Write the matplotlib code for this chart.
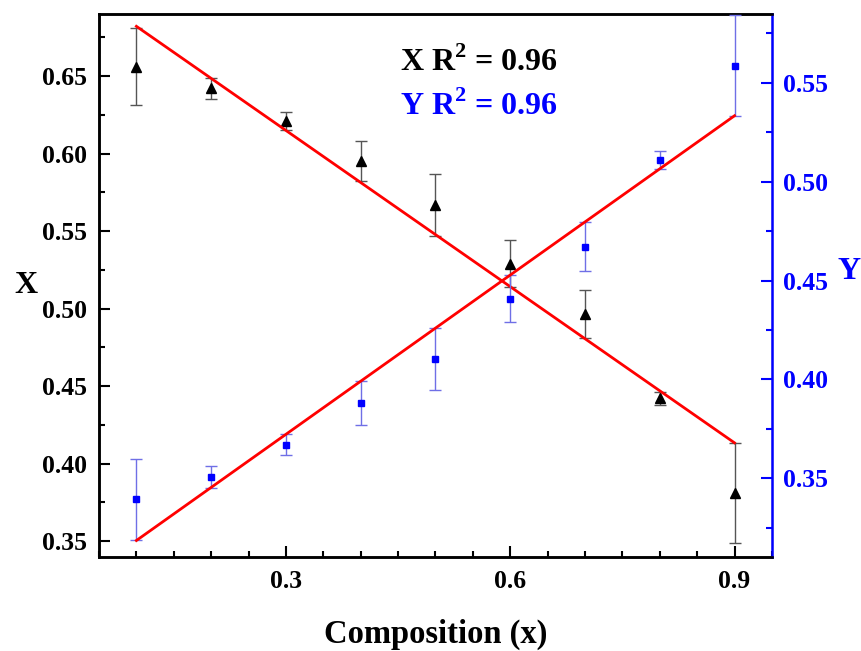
import numpy as np
import matplotlib
matplotlib.use("Agg")
import matplotlib.pyplot as plt
from matplotlib.ticker import MultipleLocator, FormatStrFormatter

plt.rcParams["font.family"] = ["Liberation Serif", "DejaVu Serif"]
plt.rcParams["font.weight"] = "bold"
plt.rcParams["mathtext.fontset"] = "custom"
plt.rcParams["mathtext.rm"] = "Liberation Serif:bold"
plt.rcParams["mathtext.bf"] = "Liberation Serif:bold"

composition = [0.1, 0.2, 0.3, 0.4, 0.5, 0.6, 0.7, 0.8, 0.9]
x_values = [0.656, 0.642, 0.621, 0.595, 0.567, 0.529, 0.4965, 0.442, 0.381]
x_errors = [0.025, 0.0067, 0.006, 0.013, 0.020, 0.015, 0.0155, 0.0043, 0.032]
y_values = [0.3395, 0.3509, 0.367, 0.3882, 0.4103, 0.4409, 0.4672, 0.511, 0.5586]
y_errors = [0.0205, 0.0055, 0.0053, 0.011, 0.0155, 0.012, 0.0125, 0.0044, 0.0255]
x_r2_text = "X R$^2$ = 0.96"
y_r2_text = "Y R$^2$ = 0.96"

comp = np.array(composition)
xv = np.array(x_values)
yv = np.array(y_values)

fig = plt.figure(figsize=(8.61, 6.51), dpi=100)
ax = fig.add_axes([0.115, 0.145, 0.7815, 0.8335])
ax2 = ax.twinx()

# X series with linear fit (left axis)
ax.errorbar(comp, xv, yerr=x_errors, fmt="^", color="black", markersize=7,
            ecolor="#555555", elinewidth=1.0, capsize=4, capthick=1.0, zorder=3)
px = np.polyfit(comp, xv, 1)
ax.plot(comp[[0, -1]], np.polyval(px, comp[[0, -1]]), color="red", lw=2, zorder=4)

# Y series with linear fit (right axis)
ax2.errorbar(comp, yv, yerr=y_errors, fmt="s", color="blue", markersize=5,
             ecolor="#6f6fe6", elinewidth=1.0, capsize=4, capthick=1.0, zorder=3)
py = np.polyfit(comp, yv, 1)
ax2.plot(comp[[0, -1]], np.polyval(py, comp[[0, -1]]), color="red", lw=2, zorder=4)

ax.set_xlim(0.05, 0.95)
ax.set_ylim(0.34, 0.69)
ax2.set_ylim(0.3105, 0.5847)

ax.xaxis.set_major_locator(MultipleLocator(0.3))
ax.xaxis.set_minor_locator(MultipleLocator(0.05))
ax.xaxis.set_major_formatter(FormatStrFormatter("%.1f"))
ax.yaxis.set_major_locator(MultipleLocator(0.05))
ax.yaxis.set_minor_locator(MultipleLocator(0.025))
ax.yaxis.set_major_formatter(FormatStrFormatter("%.2f"))
ax2.yaxis.set_major_locator(MultipleLocator(0.05))
ax2.yaxis.set_minor_locator(MultipleLocator(0.025))
ax2.yaxis.set_major_formatter(FormatStrFormatter("%.2f"))

ax.tick_params(axis="both", which="both", direction="in", labelsize=18.5, width=1.5)
ax.tick_params(axis="both", which="major", length=8)
ax.tick_params(axis="both", which="minor", length=4)
ax.tick_params(axis="x", pad=10)
ax.tick_params(axis="y", pad=9)
ax2.tick_params(axis="y", which="both", direction="in", labelsize=18.5, width=1.5,
                colors="blue", pad=8)
ax2.tick_params(axis="y", which="major", length=8)
ax2.tick_params(axis="y", which="minor", length=4)

for side in ["left", "bottom", "top"]:
    ax.spines[side].set_linewidth(1.8)
    ax2.spines[side].set_linewidth(1.8)
ax2.spines["right"].set_linewidth(1.8)
ax2.spines["right"].set_color("blue")

ax.set_xlabel("Composition (x)", fontsize=23.5, fontweight="bold", labelpad=18)
ax.set_ylabel("X", fontsize=23, fontweight="bold", rotation=0, va="center")
ax2.set_ylabel("Y", fontsize=23, fontweight="bold", rotation=0, color="blue",
               va="center")
ax.yaxis.set_label_coords(-0.108, 0.5)
ax2.yaxis.set_label_coords(1.114, 0.525)

ax.text(0.447, 0.91, x_r2_text, transform=ax.transAxes, fontsize=23,
        fontweight="bold", color="black", va="center")
ax.text(0.447, 0.83, y_r2_text, transform=ax.transAxes, fontsize=23,
        fontweight="bold", color="blue", va="center")

fig.savefig("out.png", dpi=100)
